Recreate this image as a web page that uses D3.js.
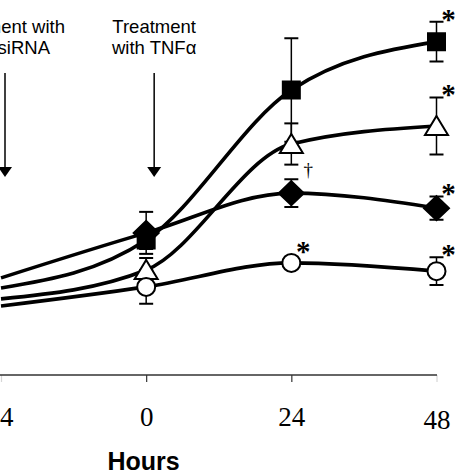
<!DOCTYPE html>
<html>
<head>
<meta charset="utf-8">
<script src="https://cdn.jsdelivr.net/npm/d3@7"></script>
<style>
  html, body { margin: 0; padding: 0; background: #fff; }
  svg { display: block; }
</style>
</head>
<body>
<svg id="chart" width="474" height="474"></svg>
<script>
// ---- data ----
const hours = [-24, 0, 24, 48];
const tickLabels = ["-24", "0", "24", "48"];
const squareValues   = [23.2, 36.0, 76.0, 88.9];
const squareErrors   = [0, 2.4, 13.8, 5.3];
const diamondValues  = [25.9, 37.9, 48.5, 44.5];
const diamondErrors  = [0, 5.6, 3.7, 3.1];
const triangleValues = [20.3, 28.0, 61.6, 66.4];
const triangleErrors = [0, 3.2, 5.5, 7.6];
const circleValues   = [18.4, 23.5, 29.9, 27.7];
const circleErrors   = [0, 4.5, 1.0, 3.7];
const annotations = [
  {series: "square", hour: 48, text: "*"},
  {series: "triangle", hour: 48, text: "*"},
  {series: "diamond", hour: 48, text: "*"},
  {series: "circle", hour: 48, text: "*"},
  {series: "circle", hour: 24, text: "*"},
  {series: "triangle", hour: 24, text: "\u2020", below: true}
];
const arrowLabels = [
  {hour: -24, lines: ["Treatment with", "siRNA"], anchor: "end"},
  {hour: 0, lines: ["Treatment", "with TNF\u03b1"], anchor: "middle"}
];

// ---- setup ----
const svg = d3.select("#chart");
const x = d3.scaleLinear().domain([-24, 48]).range([1, 436.5]);
const y = d3.scaleLinear().domain([0, 100]).range([375, 0]);

const seriesDefs = [
  {name: "square", values: squareValues, errors: squareErrors, shape: "square", fill: "#000"},
  {name: "diamond", values: diamondValues, errors: diamondErrors, shape: "diamond", fill: "#000"},
  {name: "triangle", values: triangleValues, errors: triangleErrors, shape: "triangle", fill: "#fff"},
  {name: "circle", values: circleValues, errors: circleErrors, shape: "circle", fill: "#fff"}
];
const series = seriesDefs.map(s => ({
  ...s,
  points: hours.map((h, i) => ({hour: h, value: s.values[i], err: s.errors[i]}))
}));

// ---- x axis ----
const axis = d3.axisBottom(x)
  .tickValues(hours)
  .tickFormat((d, i) => tickLabels[i])
  .tickSize(7)
  .tickPadding(25);
const gAxis = svg.append("g").attr("transform", "translate(0,375)").call(axis);
gAxis.select(".domain").attr("stroke", "#333").attr("stroke-width", 1.5).attr("d", `M0,0H${x(48)+0.5}`);
gAxis.selectAll(".tick line").attr("stroke", "#333").attr("stroke-width", 1.2)
  .attr("opacity", d => (d === 48 || d === -24) ? 0.2 : 1);
gAxis.selectAll(".tick text")
  .attr("font-family", "'Liberation Serif', 'Times New Roman', serif")
  .attr("font-size", 27)
  .attr("fill", "#000")
  .attr("dx", d => d === -24 ? -6 : 0)
  .attr("dy", d => d === 48 ? "0.82em" : "0.71em");

svg.append("text")
  .attr("x", 143.5).attr("y", 470)
  .attr("text-anchor", "middle")
  .attr("font-family", "'Liberation Sans', Arial, sans-serif")
  .attr("font-weight", "bold")
  .attr("font-size", 25)
  .text("Hours");

// ---- arrows and labels ----
arrowLabels.forEach(a => {
  const ax = x(a.hour) + (a.hour === 0 ? 8 : 4);
  svg.append("line")
    .attr("x1", ax).attr("x2", ax).attr("y1", 73).attr("y2", 168)
    .attr("stroke", "#000").attr("stroke-width", 1.5);
  svg.append("path")
    .attr("d", `M${ax-7},167L${ax+7},167L${ax},177Z`)
    .attr("fill", "#000");
  const t = svg.append("text")
    .attr("font-family", "'Liberation Sans', Arial, sans-serif")
    .attr("font-size", 18.5)
    .attr("text-anchor", a.anchor);
  a.lines.forEach((ln, i) => {
    let tx = a.anchor === "end" ? (i === 0 ? 65 : 50) : ax;
    t.append("tspan").attr("x", tx).attr("y", 32.5 + i * 21.5).text(ln);
  });
});

// ---- lines ----
const line = d3.line()
  .x(d => x(d.hour))
  .y(d => y(d.value))
  .curve(d3.curveMonotoneX);
svg.append("g").selectAll("path").data(series).join("path")
  .attr("d", s => line(s.points))
  .attr("fill", "none")
  .attr("stroke", "#000")
  .attr("stroke-width", 3.6);

// ---- error bars ----
const eb = svg.append("g").attr("stroke", "#000");
series.forEach(s => {
  s.points.filter(p => p.hour >= 0 && p.err > 0).forEach(p => {
    const cx = x(p.hour);
    eb.append("line").attr("x1", cx).attr("x2", cx)
      .attr("y1", y(p.value + p.err)).attr("y2", y(p.value - p.err))
      .attr("stroke-width", 1.5);
    [p.value + p.err, p.value - p.err].forEach(v => {
      eb.append("line").attr("x1", cx - 7).attr("x2", cx + 7)
        .attr("y1", y(v)).attr("y2", y(v)).attr("stroke-width", 2);
    });
  });
});

// ---- markers ----
function shapePath(shape, cx, cy) {
  if (shape === "square") return `M${cx-8.5},${cy-8.5}h17v17h-17Z`;
  if (shape === "diamond") return `M${cx},${cy-12}L${cx+12.5},${cy}L${cx},${cy+12}L${cx-12.5},${cy}Z`;
  if (shape === "triangle") return `M${cx},${cy-10}L${cx+11.5},${cy+9}L${cx-11.5},${cy+9}Z`;
  return null;
}
const gm = svg.append("g");
series.forEach(s => {
  s.points.filter(p => p.hour >= 0).forEach(p => {
    const cx = x(p.hour), cy = y(p.value);
    if (s.shape === "circle") {
      gm.append("circle").attr("cx", cx).attr("cy", cy).attr("r", 9)
        .attr("fill", s.fill).attr("stroke", "#000").attr("stroke-width", 2);
    } else {
      gm.append("path").attr("d", shapePath(s.shape, cx, cy))
        .attr("fill", s.fill).attr("stroke", "#000").attr("stroke-width", 2)
        .attr("stroke-linejoin", "miter");
    }
  });
});

// ---- significance marks ----
const markerHalf = {square: 8.5, diamond: 12, triangle: 10, circle: 9};
annotations.forEach(a => {
  const s = series.find(d => d.name === a.series);
  const p = s.points.find(d => d.hour === a.hour);
  const cx = x(p.hour);
  if (a.below) {
    const bottom = Math.max(y(p.value - p.err), y(p.value) + markerHalf[s.name]);
    svg.append("text")
      .attr("x", cx + 17).attr("y", bottom + 11)
      .attr("text-anchor", "middle")
      .attr("font-family", "'Liberation Serif', 'Times New Roman', serif")
      .attr("font-size", 19)
      .attr("fill", "#000")
      .text(a.text);
  } else {
    const top = Math.min(y(p.value + p.err), y(p.value) - markerHalf[s.name]);
    const cy = top - 7;
    const fs = 29;
    svg.append("text")
      .attr("x", cx + 12).attr("y", cy + 0.48 * fs)
      .attr("text-anchor", "middle")
      .attr("font-family", "'Liberation Serif', 'Times New Roman', serif")
      .attr("font-weight", "bold")
      .attr("font-size", fs)
      .attr("fill", "#000")
      .text(a.text);
  }
});
</script>
</body>
</html>
